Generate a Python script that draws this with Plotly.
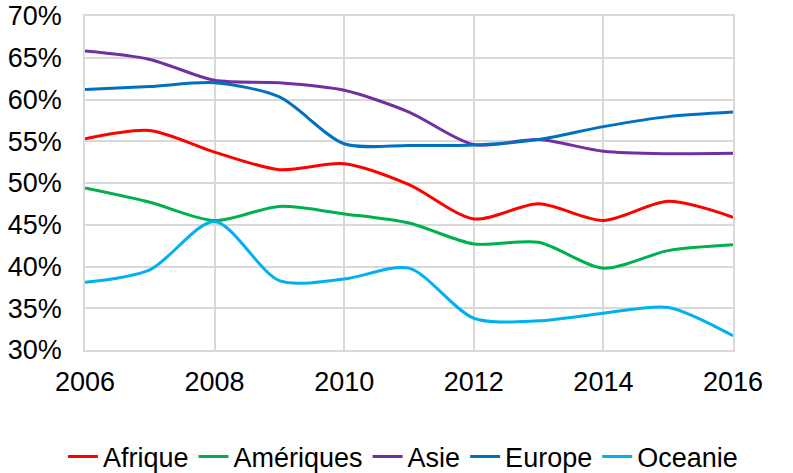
import plotly.graph_objects as go

years = [2006, 2007, 2008, 2009, 2010, 2011, 2012, 2013, 2014, 2015, 2016]
afrique = [55.3, 56.3, 53.7, 51.6, 52.3, 49.8, 45.7, 47.5, 45.5, 47.8, 45.9]
ameriques = [49.4, 47.7, 45.5, 47.2, 46.3, 45.2, 42.7, 42.9, 39.8, 41.9, 42.6]
asie = [65.8, 64.8, 62.3, 62.0, 61.1, 58.5, 54.6, 55.2, 53.8, 53.5, 53.55]
europe = [61.2, 61.55, 62.0, 60.3, 54.7, 54.5, 54.55, 55.2, 56.75, 57.95, 58.5]
oceanie = [38.1, 39.6, 45.4, 38.3, 38.5, 39.8, 33.8, 33.5, 34.4, 35.1, 31.7]

names = ["Afrique", "Amériques", "Asie", "Europe", "Oceanie"]
series = [afrique, ameriques, asie, europe, oceanie]
colors = ["#FF0000", "#00B050", "#7030A0", "#0070C0", "#00B0F0"]

fig = go.Figure()
for n, s, c in zip(names, series, colors):
    fig.add_trace(go.Scatter(
        x=years, y=[v / 100 for v in s], name=n, mode="lines",
        line=dict(color=c, width=3, shape="spline", smoothing=0.8),
    ))

FONT = "Liberation Sans, Arial, sans-serif"
FS = 27
fig.update_layout(
    width=793, height=473,
    margin=dict(l=85, r=60, t=16, b=123, autoexpand=False),
    paper_bgcolor="white", plot_bgcolor="white",
    font=dict(family=FONT, size=FS, color="#000000"),
    showlegend=True,
    legend=dict(orientation="h", x=-0.034, xanchor="left",
                y=-0.32, yanchor="middle",
                font=dict(size=FS), tracegroupgap=0),
    xaxis=dict(range=[2006, 2016], tickvals=[2006, 2008, 2010, 2012, 2014, 2016],
               showgrid=True, gridcolor="#D9D9D9", gridwidth=1.5,
               showline=True, linecolor="#D9D9D9", linewidth=1.5, mirror=True,
               zeroline=False, ticks="", ticklen=0, tickfont=dict(size=FS),
               automargin=False, ticklabelstandoff=7),
    yaxis=dict(range=[0.30, 0.70], dtick=0.05, tickformat=".0%",
               showgrid=True, gridcolor="#D9D9D9", gridwidth=1.5,
               showline=True, linecolor="#D9D9D9", linewidth=1.5, mirror=True,
               zeroline=False, ticks="", tickfont=dict(size=FS),
               automargin=False, ticklabelstandoff=16, ticklabeloverflow="allow"),
)
fig.write_html("out.html", config={"displayModeBar": False},
               post_script="document.body.style.margin='0';document.body.style.overflow='hidden';")
